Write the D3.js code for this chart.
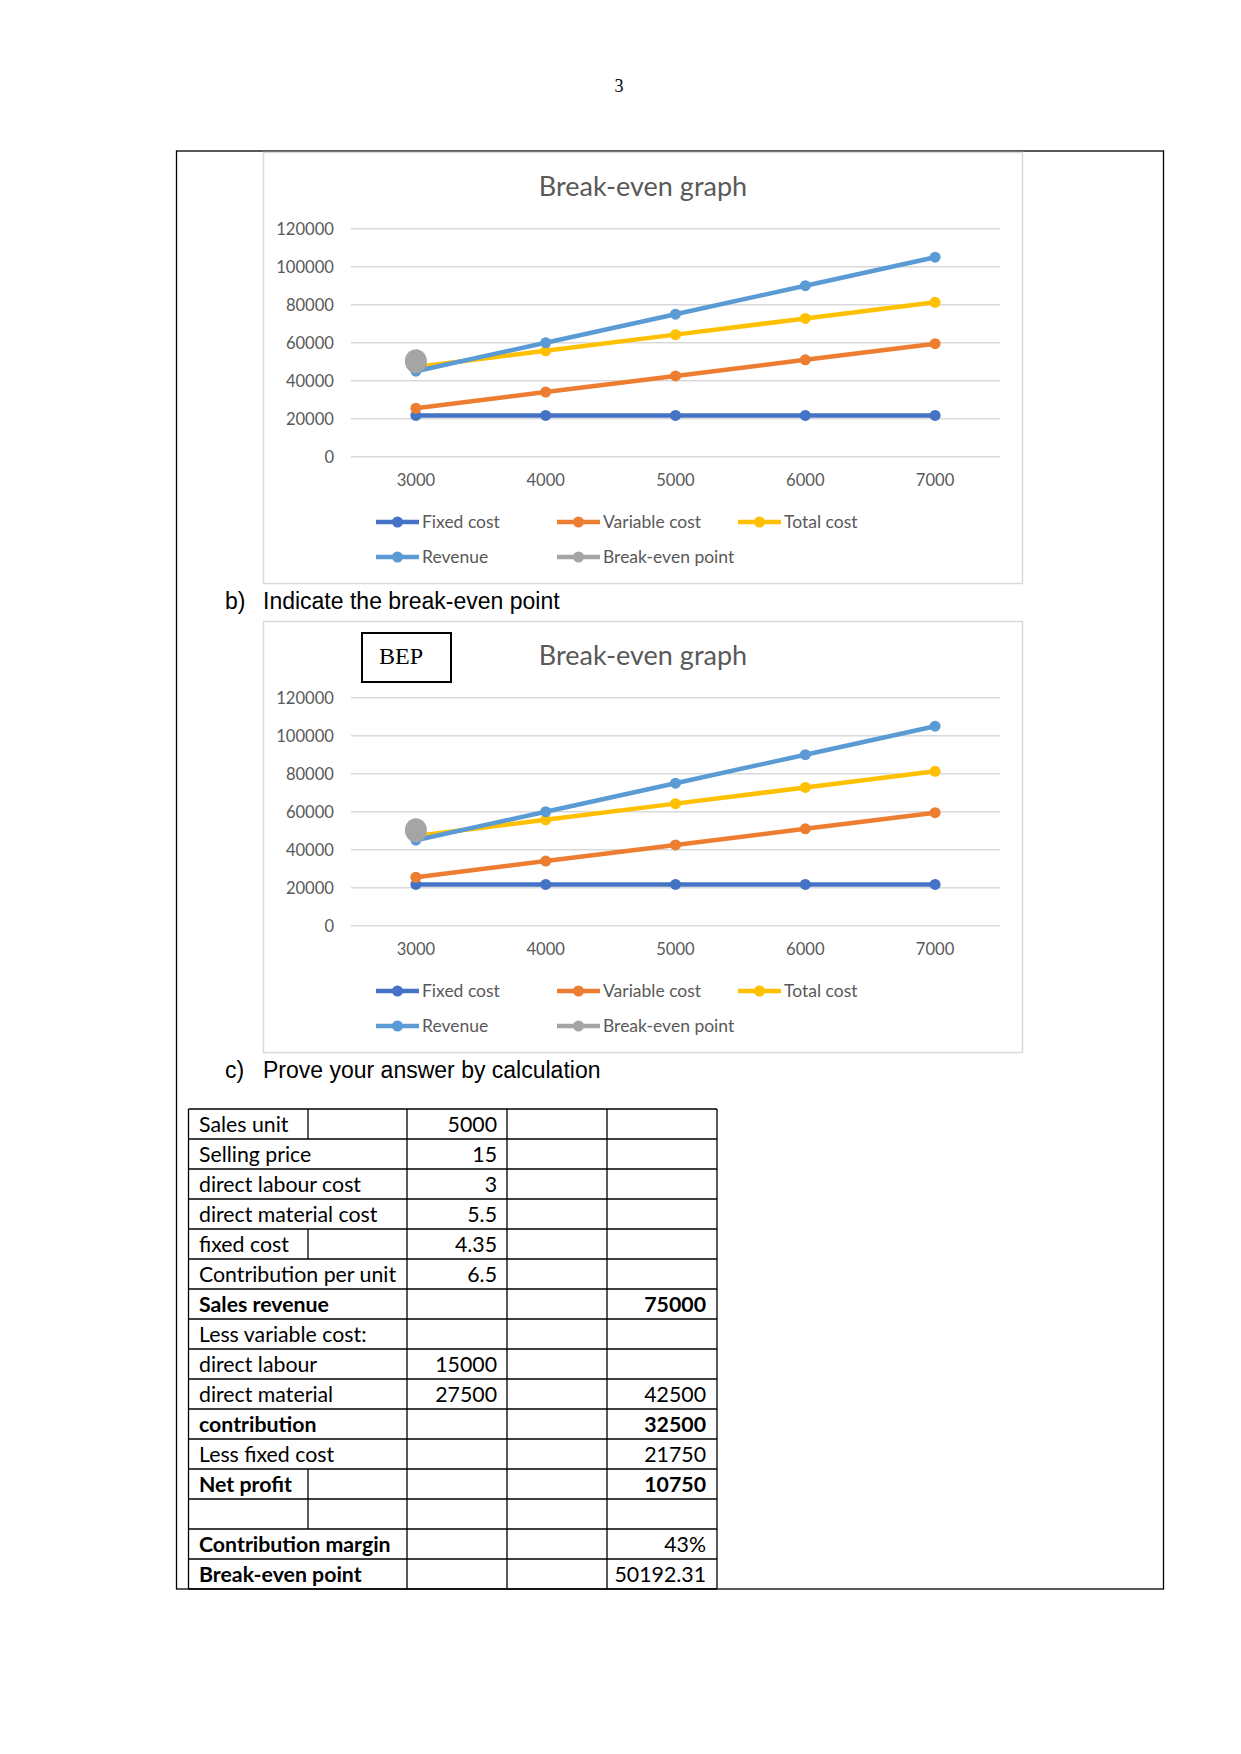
<!DOCTYPE html>
<html lang="en">
<head>
<meta charset="UTF-8">
<title>Break-even graph</title>
<style>
  body { margin: 0; background: #fff; }
  svg { display: block; }
</style>
</head>
<body>
<div id="page"></div>
<script src="https://cdn.jsdelivr.net/npm/d3@7"></script>
<script>
// chart data
var units = [3000, 4000, 5000, 6000, 7000];
var fixedCost = [21750, 21750, 21750, 21750, 21750];
var variableCost = [25500, 34000, 42500, 51000, 59500];
var totalCost = [47250, 55750, 64250, 72750, 81250];
var revenue = [45000, 60000, 75000, 90000, 105000];
var breakEven = [50192.31, null, null, null, null];
var yTicks = [0, 20000, 40000, 60000, 80000, 100000, 120000];

var seriesNames = ["Fixed cost", "Variable cost", "Total cost", "Revenue", "Break-even point"];
var seriesColors = ["#4472C4", "#ED7D31", "#FFC000", "#5B9BD5", "#A5A5A5"];
var seriesValues = [fixedCost, variableCost, totalCost, revenue, breakEven];

// table data
var tableLabels = ["Sales unit", "Selling price", "direct labour cost", "direct material cost",
  "fixed cost", "Contribution per unit", "Sales revenue", "Less variable cost:",
  "direct labour", "direct material", "contribution", "Less fixed cost", "Net profit",
  "", "Contribution margin", "Break-even point"];
var tableCol2 = ["5000", "15", "3", "5.5", "4.35", "6.5", "", "", "15000", "27500", "", "", "", "", "", ""];
var tableCol4 = ["", "", "", "", "", "", "75000", "", "", "42500", "32500", "21750", "10750", "", "43%", "50192.31"];
var boldRows = [6, 10, 12, 14, 15];
var boldValueRows = [6, 10, 12];
var splitRows = [0, 4, 12, 13];

var W = 1241, H = 1754;
var svg = d3.select("#page").append("svg")
  .attr("width", W)
  .attr("height", H);

svg.append("rect").attr("width", W).attr("height", H).attr("fill", "#fff");

// page number
svg.append("text")
  .attr("x", 619).attr("y", 92)
  .attr("text-anchor", "middle")
  .attr("font-family", "Liberation Serif")
  .attr("font-size", 18)
  .text("3");

// outer frame
svg.append("rect")
  .attr("x", 176.5).attr("y", 151)
  .attr("width", 987).attr("height", 1438)
  .attr("fill", "none")
  .attr("stroke", "#000")
  .attr("stroke-width", 1.3);

var x = d3.scalePoint().domain(units).range([351, 1000]).padding(0.5);
var y = d3.scaleLinear().domain([0, 120000]).range([456.7, 228.7]);

function drawChart(offsetY, withBox) {
  var g = svg.append("g").attr("transform", "translate(0," + offsetY + ")");

  g.append("rect")
    .attr("x", 263.5).attr("y", 152.5)
    .attr("width", 759).attr("height", 431)
    .attr("fill", "#fff")
    .attr("stroke", "#d9d9d9")
    .attr("stroke-width", 1.5);

  g.append("text")
    .attr("x", 643).attr("y", 196)
    .attr("text-anchor", "middle")
    .attr("font-family", "Lato")
    .attr("font-size", 27)
    .attr("fill", "#595959")
    .text("Break-even graph");

  // gridlines + y labels
  g.selectAll(".grid")
    .data(yTicks)
    .enter().append("line")
    .attr("x1", 351).attr("x2", 1000)
    .attr("y1", function (d) { return y(d); })
    .attr("y2", function (d) { return y(d); })
    .attr("stroke", "#d9d9d9")
    .attr("stroke-width", 1.5);

  g.selectAll(".ylab")
    .data(yTicks)
    .enter().append("text")
    .attr("x", 334)
    .attr("y", function (d) { return y(d) + 6; })
    .attr("text-anchor", "end")
    .attr("font-family", "Lato")
    .attr("font-size", 16.6)
    .attr("fill", "#595959")
    .text(function (d) { return d; });

  g.selectAll(".xlab")
    .data(units)
    .enter().append("text")
    .attr("x", function (d) { return x(d); })
    .attr("y", 486)
    .attr("text-anchor", "middle")
    .attr("font-family", "Lato")
    .attr("font-size", 16.6)
    .attr("fill", "#595959")
    .text(function (d) { return d; });

  var line = d3.line()
    .defined(function (d) { return d != null; })
    .x(function (d, i) { return x(units[i]); })
    .y(function (d) { return y(d); });

  seriesValues.forEach(function (vals, s) {
    g.append("path")
      .attr("d", line(vals))
      .attr("fill", "none")
      .attr("stroke", seriesColors[s])
      .attr("stroke-width", 4.5)
      .attr("stroke-linejoin", "round");

    var pts = vals.map(function (v, i) { return { v: v, i: i }; })
      .filter(function (p) { return p.v != null; });

    if (s === 4) {
      g.selectAll(".bep")
        .data(pts)
        .enter().append("ellipse")
        .attr("cx", function (p) { return x(units[p.i]); })
        .attr("cy", function (p) { return y(p.v); })
        .attr("rx", 11).attr("ry", 12)
        .attr("fill", seriesColors[s]);
    } else {
      g.selectAll(".m" + s)
        .data(pts)
        .enter().append("circle")
        .attr("cx", function (p) { return x(units[p.i]); })
        .attr("cy", function (p) { return y(p.v); })
        .attr("r", 5.5)
        .attr("fill", seriesColors[s]);
    }
  });

  // legend
  var legX = [376, 557, 738, 376, 557];
  var legY = [522, 522, 522, 557, 557];
  seriesNames.forEach(function (name, s) {
    var lg = g.append("g").attr("transform", "translate(" + legX[s] + "," + legY[s] + ")");
    lg.append("line")
      .attr("x1", 0).attr("x2", 43)
      .attr("stroke", seriesColors[s])
      .attr("stroke-width", 4.5);
    lg.append("circle")
      .attr("cx", 21.5).attr("r", 5.5)
      .attr("fill", seriesColors[s]);
    lg.append("text")
      .attr("x", 46).attr("y", 6)
      .attr("font-family", "Lato")
      .attr("font-size", 17.5)
      .attr("fill", "#595959")
      .text(name);
  });

  if (withBox) {
    g.append("rect")
      .attr("x", 362).attr("y", 164)
      .attr("width", 89).attr("height", 49)
      .attr("fill", "#fff")
      .attr("stroke", "#000")
      .attr("stroke-width", 2);
    g.append("text")
      .attr("x", 379).attr("y", 195)
      .attr("font-family", "Liberation Serif")
      .attr("font-size", 24)
      .text("BEP");
  }
}

drawChart(0, false);
drawChart(469, true);

function heading(yPos, letter, text) {
  svg.append("text")
    .attr("x", 225).attr("y", yPos)
    .attr("font-family", "Liberation Sans")
    .attr("font-size", 23)
    .text(letter);
  svg.append("text")
    .attr("x", 263).attr("y", yPos)
    .attr("font-family", "Liberation Sans")
    .attr("font-size", 23)
    .text(text);
}
heading(609, "b)", "Indicate the break-even point");
heading(1078, "c)", "Prove your answer by calculation");

// calculation table
var tTop = 1109, rowH = 30;
var colX = [188.5, 407, 507, 607, 717];
var tBottom = tTop + rowH * tableLabels.length;
var tg = svg.append("g")
  .attr("stroke", "#000")
  .attr("stroke-width", 1.3);

d3.range(tableLabels.length + 1).forEach(function (r) {
  tg.append("line")
    .attr("x1", colX[0]).attr("x2", colX[4])
    .attr("y1", tTop + r * rowH).attr("y2", tTop + r * rowH);
});
colX.forEach(function (cx) {
  tg.append("line")
    .attr("x1", cx).attr("x2", cx)
    .attr("y1", tTop).attr("y2", tBottom);
});
splitRows.forEach(function (r) {
  tg.append("line")
    .attr("x1", 308).attr("x2", 308)
    .attr("y1", tTop + r * rowH).attr("y2", tTop + (r + 1) * rowH);
});

tableLabels.forEach(function (lab, r) {
  var bold = boldRows.indexOf(r) >= 0;
  var by = tTop + r * rowH + 23;
  svg.append("text")
    .attr("x", 199).attr("y", by)
    .attr("font-family", "Lato")
    .attr("font-size", 21.3)
    .attr("font-weight", bold ? "bold" : "normal")
    .text(lab);
  svg.append("text")
    .attr("x", 497).attr("y", by)
    .attr("text-anchor", "end")
    .attr("font-family", "Lato")
    .attr("font-size", 21.3)
    .text(tableCol2[r]);
  svg.append("text")
    .attr("x", 706).attr("y", by)
    .attr("text-anchor", "end")
    .attr("font-family", "Lato")
    .attr("font-size", 21.3)
    .attr("font-weight", boldValueRows.indexOf(r) >= 0 ? "bold" : "normal")
    .text(tableCol4[r]);
});
</script>
</body>
</html>
